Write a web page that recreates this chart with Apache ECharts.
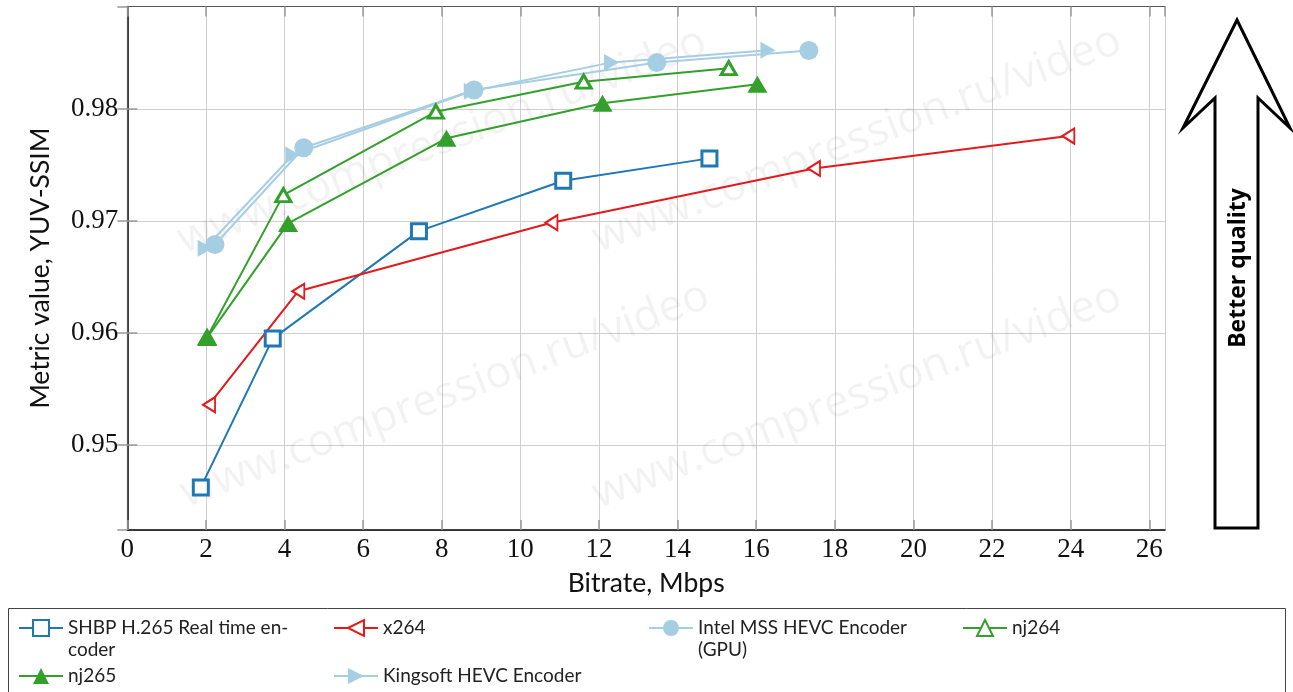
<!DOCTYPE html>
<html>
<head>
<meta charset="utf-8">
<script src="https://cdn.jsdelivr.net/npm/echarts@6/dist/echarts.min.js"></script>
<style>html,body{margin:0;padding:0;background:#fff}#c{width:1293px;height:692px}</style>
</head>
<body>
<div id="c"></div>
<script>
const seriesNames = ['SHBP H.265 Real time encoder', 'x264', 'Intel MSS HEVC Encoder (GPU)', 'nj264', 'nj265', 'Kingsoft HEVC Encoder'];
const legendLabels = ['SHBP H.265 Real time en-\ncoder', 'x264', 'Intel MSS HEVC Encoder\n(GPU)', 'nj264', 'nj265', 'Kingsoft HEVC Encoder'];
const shbp = [[1.87, 0.94621], [3.70, 0.9595], [7.42, 0.96909], [11.09, 0.97359], [14.81, 0.97559]];
const x264 = [[2.08, 0.9536], [4.35, 0.96373], [10.79, 0.96985], [17.47, 0.97469], [23.94, 0.97758]];
const intel = [[2.23, 0.9679], [4.49, 0.97654], [8.82, 0.9817], [13.47, 0.98414], [17.34, 0.98522]];
const nj264 = [[2.03, 0.95962], [3.97, 0.97231], [7.85, 0.97976], [11.61, 0.98244], [15.30, 0.98364]];
const nj265 = [[2.03, 0.95959], [4.09, 0.96978], [8.12, 0.97738], [12.09, 0.98051], [16.03, 0.98221]];
const kingsoft = [[1.98, 0.96757], [4.21, 0.97589], [8.75, 0.98158], [12.32, 0.98416], [16.30, 0.98524]];
const xTickStep = 2;
const watermarkText = 'www.compression.ru/video';

const chart = echarts.init(document.getElementById('c'), null, {renderer: 'canvas'});
const serif = 'Liberation Serif';
const sans = 'Lato';

function mk(name, data, color, symbol, size, rotate, open, bw) {
  return {
    name: name, type: 'line', data: data, symbol: symbol, symbolSize: size, symbolRotate: rotate,
    lineStyle: {color: color, width: 2},
    itemStyle: open ? {color: '#fff', borderColor: color, borderWidth: bw} : {color: color, borderWidth: 0},
    xAxisIndex: 0, yAxisIndex: 0, z: 3
  };
}

const series = [
  mk(seriesNames[0], shbp, '#1f78b4', 'rect', 15, 0, true, 3),
  mk(seriesNames[1], x264, '#e31a1c', 'triangle', [15, 12], 90, true, 2),
  mk(seriesNames[2], intel, '#a6cee3', 'circle', 19, 0, false, 0),
  mk(seriesNames[3], nj264, '#33a02c', 'triangle', [15, 13], 0, true, 3),
  mk(seriesNames[4], nj265, '#33a02c', 'triangle', [20, 17], 0, false, 0),
  mk(seriesNames[5], kingsoft, '#a6cee3', 'triangle', [17, 15], -90, false, 0)
];

// [left, top, twoLine]
const legendPos = [[18, 595, true], [333, 617, false], [648, 595, true], [962, 617, false], [18, 665, false], [333, 665, false]];
const legends = seriesNames.map((n, i) => ({
  data: [n], left: legendPos[i][0], top: legendPos[i][1], padding: 0, itemGap: 0,
  itemWidth: 44, itemHeight: 20, selectedMode: false,
  formatter: () => (legendPos[i][2] ? ' \n' : '') + legendLabels[i],
  textStyle: {fontFamily: sans, fontSize: 19, color: '#222', lineHeight: 22}
}));

const wm = [[442, 141], [445, 395], [857, 140], [857, 396]].map(p => ({
  type: 'text', x: p[0], y: p[1], rotation: 21 * Math.PI / 180, z: 1, silent: true,
  style: {text: watermarkText, x: 0, y: 0, align: 'center', verticalAlign: 'middle',
    font: '44px "Open Sans"', fill: 'rgba(0,0,0,0.05)'}
}));

const yFmt = v => (Math.abs(v * 100 - Math.round(v * 100)) < 1e-6 ? v.toFixed(2) : '');
const xFmt = v => (Math.abs(v / xTickStep - Math.round(v / xTickStep)) < 1e-6 ? String(Math.round(v)) : '');

const option = {
  animation: false,
  backgroundColor: '#fff',
  grid: {left: 127.3, top: 6.5, right: 128, bottom: 162, containLabel: false},
  legend: legends,
  xAxis: [{
    type: 'value', min: 0, max: 26.4, interval: xTickStep, position: 'bottom',
    name: 'Bitrate, Mbps', nameLocation: 'middle', nameGap: 40,
    nameTextStyle: {fontFamily: sans, fontSize: 26.5, color: '#111'},
    axisLine: {show: true, lineStyle: {color: '#000', width: 1.5}},
    axisTick: {show: true, inside: true, length: 10, lineStyle: {color: '#999', width: 1.5}},
    axisLabel: {formatter: xFmt, showMaxLabel: false, margin: 6, fontFamily: serif, fontSize: 27, color: '#111'},
    splitLine: {show: true, lineStyle: {color: '#cfcfcf', width: 1}}
  }, {
    type: 'value', min: 0, max: 26.4, interval: xTickStep, position: 'top',
    axisLine: {show: true, lineStyle: {color: '#555', width: 1.2}},
    axisTick: {show: true, inside: true, length: 10, lineStyle: {color: '#999', width: 1.5}},
    axisLabel: {show: false}, splitLine: {show: false}
  }],
  yAxis: [{
    type: 'value', min: 0.94241, max: 0.98915, splitNumber: 5, position: 'left',
    name: 'Metric value, YUV-SSIM', nameLocation: 'middle', nameGap: 73, nameRotate: 90,
    nameTextStyle: {fontFamily: sans, fontSize: 26.5, color: '#111'},
    axisLine: {show: true, lineStyle: {color: '#000', width: 1.5}},
    axisTick: {show: true, inside: true, length: 10, lineStyle: {color: '#999', width: 1.5}},
    axisLabel: {formatter: yFmt, showMinLabel: false, showMaxLabel: false, margin: 9, fontFamily: serif, fontSize: 27, color: '#111'},
    splitLine: {show: true, lineStyle: {color: '#cfcfcf', width: 1}}
  }, {
    type: 'value', min: 0.94241, max: 0.98915, splitNumber: 5, position: 'right',
    axisLine: {show: true, lineStyle: {color: '#555', width: 1.2}},
    axisTick: {show: true, inside: true, length: 10, lineStyle: {color: '#999', width: 1.5}},
    axisLabel: {show: false}, splitLine: {show: false}
  }],
  series: series,
  graphic: wm.concat([
    {type: 'rect', z: 0, silent: true, shape: {x: 8.5, y: 608.5, width: 1277, height: 120},
      style: {fill: 'none', stroke: '#444', lineWidth: 1}},
    {type: 'polygon', z: 10, silent: true,
      shape: {points: [[1237, 20], [1290, 128], [1258, 98], [1258, 528], [1215, 528], [1215, 98], [1183, 128]]},
      style: {fill: '#fff', stroke: '#000', lineWidth: 3, lineJoin: 'miter'}},
    {type: 'text', z: 11, silent: true, x: 1238, y: 268, rotation: Math.PI / 2,
      style: {text: 'Better quality', x: 0, y: 0, align: 'center', verticalAlign: 'middle',
        font: 'bold 23px "Open Sans"', fill: '#000'}}
  ])
};
chart.setOption(option);
</script>
</body>
</html>
